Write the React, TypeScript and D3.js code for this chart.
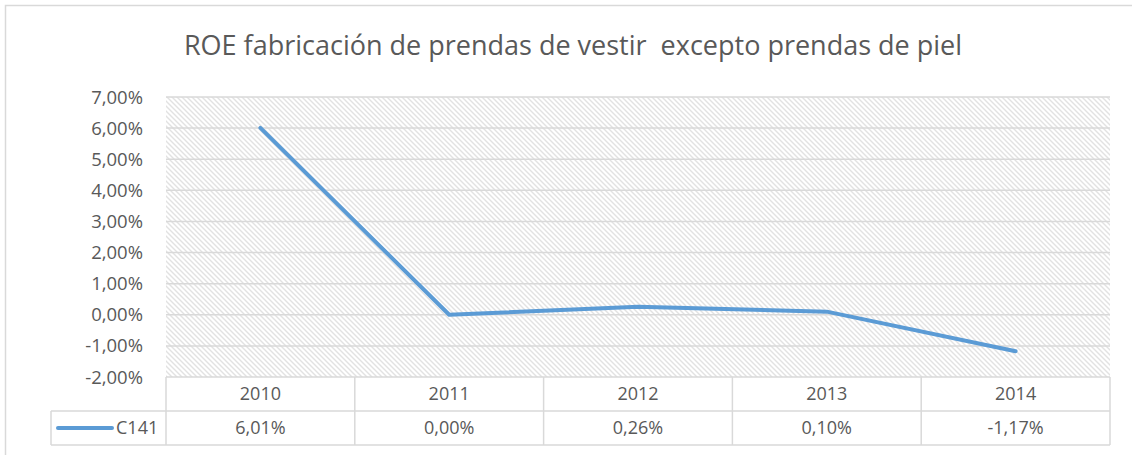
import React from "react";
import * as d3 from "d3";

const title = "ROE fabricación de prendas de vestir  excepto prendas de piel";
const years = ["2010", "2011", "2012", "2013", "2014"];
const values = [6.01, 0.0, 0.26, 0.1, -1.17];
const valueLabels = ["6,01%", "0,00%", "0,26%", "0,10%", "-1,17%"];
const seriesName = "C141";
const yTicks = [7, 6, 5, 4, 3, 2, 1, 0, -1, -2];

const W = 1132;
const H = 455;
const plotLeft = 166;
const plotRight = 1110;
const plotTop = 97;
const plotBottom = 377;
const row1Bottom = 411;
const row2Bottom = 445;
const legendLeft = 51;
const textColor = "#595959";
const gridColor = "#d9d9d9";
const lineColor = "#5B9BD5";
const font = "'Open Sans', sans-serif";

const fmt = (v: number) => v.toFixed(2).replace(".", ",") + "%";

export default function App() {
  const x = d3.scaleBand<string>().domain(years).range([plotLeft, plotRight]);
  const y = d3.scaleLinear().domain([-2, 7]).range([plotBottom, plotTop]);
  const line = d3
    .line<number>()
    .x((_, i) => (x(years[i]) as number) + x.bandwidth() / 2)
    .y((d) => y(d));

  return (
    <svg
      width={W}
      height={H}
      style={{ position: "absolute", left: 0, top: 0, background: "#fff" }}
    >
      <defs>
        <pattern id="hatch" width={5} height={5} patternUnits="userSpaceOnUse">
          <rect width={5} height={5} fill="#fff" />
          <path
            d="M-1,-1 L6,6 M-1,4 L1,6 M4,-1 L6,1"
            stroke="#e2e2e2"
            strokeWidth={1.4}
          />
        </pattern>
      </defs>
      <rect x={0} y={0} width={W} height={H} fill="#fff" />
      <rect
        x={5.5}
        y={5.5}
        width={1140}
        height={460}
        fill="none"
        stroke={gridColor}
        strokeWidth={1.5}
      />
      <text
        x={573}
        y={55}
        textAnchor="middle"
        fontFamily={font}
        fontSize={27}
        fill={textColor}
        style={{ whiteSpace: "pre" }}
      >
        {title}
      </text>
      <rect
        x={plotLeft}
        y={plotTop}
        width={plotRight - plotLeft}
        height={plotBottom - plotTop}
        fill="url(#hatch)"
      />
      {yTicks.map((t) => (
        <g key={t}>
          {t > -2 && (
            <line
              x1={plotLeft}
              x2={plotRight}
              y1={y(t)}
              y2={y(t)}
              stroke={gridColor}
              strokeWidth={1.5}
            />
          )}
          <text
            x={143}
            y={y(t) + 6.5}
            textAnchor="end"
            fontFamily={font}
            fontSize={18.5}
            fill={textColor}
          >
            {fmt(t)}
          </text>
        </g>
      ))}
      <path
        d={line(values) || ""}
        fill="none"
        stroke={lineColor}
        strokeWidth={4}
        strokeLinecap="round"
        strokeLinejoin="round"
      />
      {/* data table */}
      <g stroke={gridColor} strokeWidth={1.5} fill="none">
        <line x1={plotLeft} x2={plotRight} y1={plotBottom} y2={plotBottom} />
        <line x1={legendLeft} x2={plotRight} y1={row1Bottom} y2={row1Bottom} />
        <line x1={legendLeft} x2={plotRight} y1={row2Bottom} y2={row2Bottom} />
        <line x1={legendLeft} x2={legendLeft} y1={row1Bottom} y2={row2Bottom} />
        {years.map((yr) => (
          <line
            key={yr}
            x1={x(yr) as number}
            x2={x(yr) as number}
            y1={plotBottom}
            y2={row2Bottom}
          />
        ))}
        <line x1={plotRight} x2={plotRight} y1={plotBottom} y2={row2Bottom} />
      </g>
      {years.map((yr, i) => (
        <g key={yr}>
          <text
            x={(x(yr) as number) + x.bandwidth() / 2}
            y={(plotBottom + row1Bottom) / 2 + 6}
            textAnchor="middle"
            fontFamily={font}
            fontSize={18}
            fill={textColor}
          >
            {yr}
          </text>
          <text
            x={(x(yr) as number) + x.bandwidth() / 2}
            y={(row1Bottom + row2Bottom) / 2 + 6}
            textAnchor="middle"
            fontFamily={font}
            fontSize={18}
            fill={textColor}
          >
            {valueLabels[i]}
          </text>
        </g>
      ))}
      <line
        x1={58}
        x2={112}
        y1={428}
        y2={428}
        stroke={lineColor}
        strokeWidth={4}
        strokeLinecap="round"
      />
      <text
        x={116}
        y={434}
        fontFamily={font}
        fontSize={18}
        fill={textColor}
      >
        {seriesName}
      </text>
    </svg>
  );
}
